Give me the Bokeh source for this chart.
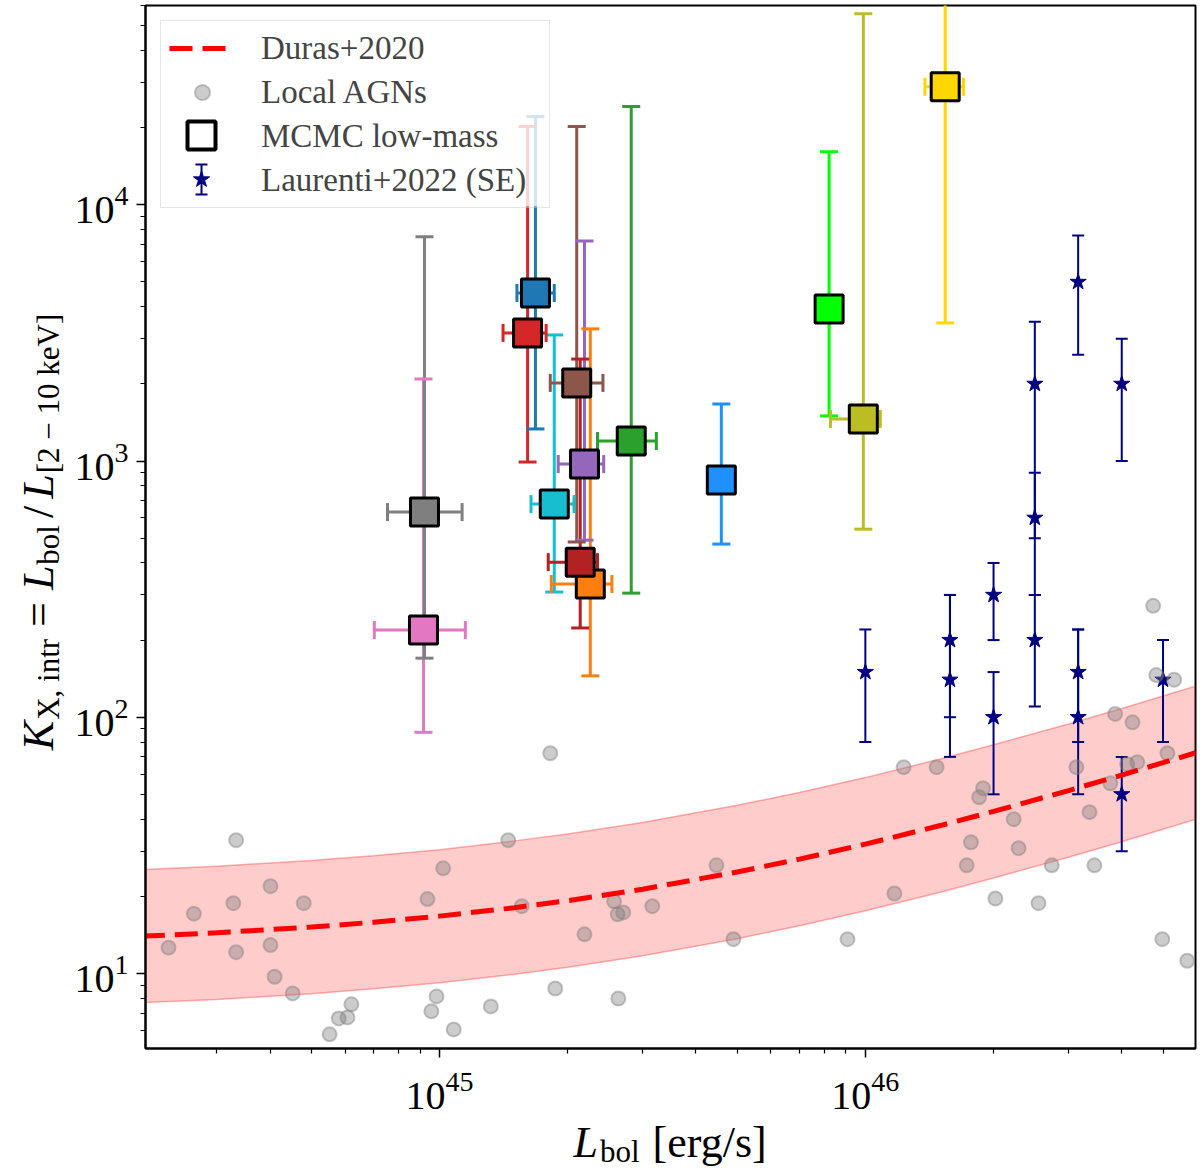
import numpy as np
from bokeh.plotting import figure
from bokeh.layouts import column, row
from bokeh.models import Range1d, Label, Legend, LegendItem, ColumnDataSource, FixedTicker
from bokeh.embed import file_html
from bokeh.resources import INLINE

# ---------------- data ----------------
# Duras+2020 relation (dashed) and its scatter band
duras_L = [2e44, 3e44, 5e44, 7e44, 1e45, 1.5e45, 2e45, 3e45, 5e45, 7e45,
           1e46, 1.5e46, 2e46, 3e46, 4e46, 5e46, 6e46]
duras_K = [13.97, 14.40, 15.16, 15.83, 16.73, 18.05, 19.22, 21.31, 24.87, 27.92,
           31.95, 37.76, 42.86, 51.71, 59.45, 66.45, 72.87]
duras_hi = [25.4, 26.2, 27.6, 28.8, 30.4, 32.9, 35.0, 38.8, 45.3, 50.8,
            58.1, 68.7, 78.0, 94.1, 108.2, 120.9, 132.6]
duras_lo = [7.68, 7.91, 8.33, 8.70, 9.19, 9.92, 10.56, 11.71, 13.66, 15.34,
            17.55, 20.75, 23.55, 28.41, 32.66, 36.51, 40.04]

# Local AGNs
local_L = [2.31e44, 2.65e44, 3.33e44, 3.28e44, 3.33e44, 4.01e44, 4.01e44, 4.10e44, 4.52e44, 4.80e44,
           5.52e44, 5.80e44, 6.08e44, 6.21e44, 9.37e44, 1.02e45, 9.57e44, 9.84e44, 1.08e45, 1.32e45,
           1.45e45, 1.56e45, 1.82e45, 2.19e45, 2.57e45, 2.62e45, 2.70e45, 3.16e45, 1.87e45, 2.63e45,
           4.47e45, 4.90e45, 9.08e45, 1.17e46, 1.23e46, 1.47e46, 1.73e46, 1.77e46, 1.85e46, 1.89e46,
           2.23e46, 2.29e46, 2.02e46, 2.74e46, 2.55e46, 3.13e46, 3.36e46, 3.45e46, 3.76e46, 4.12e46,
           4.35e46, 4.98e46, 5.70e46, 3.86e46, 4.24e46, 5.12e46, 4.74e46, 4.82e46, 5.31e46]
local_K = [12.6, 17.1, 33.1, 18.8, 12.1, 21.9, 12.9, 9.7, 8.35, 18.8,
           5.78, 6.67, 6.73, 7.57, 19.5, 25.7, 7.11, 8.13, 6.04, 7.43,
           33.1, 18.3, 72.3, 14.2, 19.1, 17.0, 17.3, 18.3, 8.73, 7.98,
           26.4, 13.6, 13.6, 20.5, 63.8, 63.8, 26.4, 32.5, 48.7, 52.8,
           40.0, 30.8, 19.6, 26.4, 18.8, 63.8, 42.6, 26.4, 55.2, 65.5,
           66.7, 13.6, 11.2, 103, 95.5, 72.3, 272, 146, 140]

# MCMC low-mass objects
mcmc_colors = ["#1f77b4", "#ff7f0e", "#2ca02c", "#d62728", "#9467bd", "#8c564b", "#e377c2",
               "#7f7f7f", "#bcbd22", "#17becf", "#b22222", "#1e90ff", "#00ff00", "#ffd700"]
mcmc_L = [1.68e45, 2.26e45, 2.82e45, 1.61e45, 2.19e45, 2.10e45, 9.17e44,
          9.22e44, 9.89e45, 1.86e45, 2.14e45, 4.59e45, 8.22e45, 1.54e46]
mcmc_L_lo = [1.52e45, 1.83e45, 2.35e45, 1.41e45, 1.90e45, 1.82e45, 7.03e44,
             7.55e44, 8.28e45, 1.64e45, 1.80e45, 4.59e45, 8.22e45, 1.38e46]
mcmc_L_hi = [1.86e45, 2.54e45, 3.23e45, 1.78e45, 2.43e45, 2.42e45, 1.15e45,
             1.13e45, 1.084e46, 2.07e45, 2.35e45, 4.59e45, 8.22e45, 1.70e46]
mcmc_K = [4530, 331, 1197, 3162, 973, 2018, 219, 632, 1460, 679, 403, 843, 3925, 28900]
mcmc_K_lo = [1334, 145, 305, 991, 491, 483, 87.3, 170, 542, 308, 223, 474, 1500, 3460]
mcmc_K_hi = [22100, 3280, 24200, 20200, 7230, 20200, 2090, 7500, 55700, 3105, 2500, 1670, 16100, 2.0e5]

# Laurenti+2022 (SE)
laur_L = [1.0e46, 1.58e46, 1.58e46, 2.0e46, 2.0e46, 2.5e46, 2.5e46, 2.5e46,
          3.16e46, 3.16e46, 3.16e46, 4.0e46, 4.0e46, 5.0e46]
laur_K = [150, 200, 140, 300, 100, 2000, 600, 200, 5000, 150, 100, 2000, 50, 140]
laur_K_lo = [80, 100, 70, 200, 50, 300, 500, 110, 2600, 80, 50, 1000, 30, 80]
laur_K_hi = [220, 300, 300, 400, 150, 3500, 900, 300, 7600, 220, 220, 3000, 70, 200]

# axes
XMIN, XMAX = 2.04e44, 5.96e46
YMIN, YMAX = 5.09, 6.0e4
x_major = [1e45, 1e46]
x_minor = [m * 10.0 ** e for e in (44, 45, 46) for m in range(2, 10)]
y_major = [1e1, 1e2, 1e3, 1e4]
y_minor = [m * 10.0 ** e for e in (0, 1, 2, 3, 4) for m in range(2, 10)]

# ---------------- layout ----------------
FONT = "Liberation Serif"
WTOT = 1198
WL = 66                 # width of the y-label strip
BL, BR, BT = 79, 3, 5   # left / right / top borders of the main figure
HX = 54                 # height of the x-label strip
HMAIN = 1170 - HX       # height of the main figure
BB = 68                 # bottom border (x tick labels)
FW = WTOT - WL - BL - BR
FH = HMAIN - BT - BB

p = figure(x_axis_type="log", y_axis_type="log",
           x_range=Range1d(XMIN, XMAX), y_range=Range1d(YMIN, YMAX),
           width=WTOT - WL, height=HMAIN,
           min_border_left=BL, min_border_right=BR, min_border_top=BT, min_border_bottom=BB,
           output_backend="svg", toolbar_location=None, background_fill_color="white")
p.xgrid.visible = False
p.ygrid.visible = False
p.outline_line_color = "black"
p.outline_line_width = 2
p.outline_line_alpha = 1.0

p.xaxis.ticker = FixedTicker(ticks=x_major, minor_ticks=x_minor)
p.yaxis.ticker = FixedTicker(ticks=y_major, minor_ticks=y_minor)
for ax in (p.xaxis[0], p.yaxis[0]):
    ax.axis_line_width = 2
    ax.axis_line_color = "black"
    ax.major_tick_in = 0
    ax.major_tick_out = 9
    ax.minor_tick_in = 0
    ax.minor_tick_out = 5
    ax.major_tick_line_width = 1.5
    ax.minor_tick_line_width = 1.2
    ax.major_tick_line_color = "black"
    ax.minor_tick_line_color = "black"
    ax.major_label_text_font = FONT
    ax.major_label_text_font_size = "40px"
    ax.major_label_text_color = "black"
p.xaxis.major_label_standoff = 14
p.yaxis.major_label_standoff = 8

lx0, lx1 = np.log10(XMIN), np.log10(XMAX)
ly0, ly1 = np.log10(YMIN), np.log10(YMAX)


def X(px):
    """screen px from frame left -> data x"""
    return float(10 ** (lx0 + px / FW * (lx1 - lx0)))


def Y(py):
    """screen px from frame top -> data y"""
    return float(10 ** (ly0 + (FH - py) / FH * (ly1 - ly0)))


# ---------------- glyphs ----------------
p.varea(x=duras_L, y1=duras_lo, y2=duras_hi, fill_color="red", fill_alpha=0.2)
p.line(duras_L, duras_hi, line_color="red", line_alpha=0.3, line_width=1.5)
p.line(duras_L, duras_lo, line_color="red", line_alpha=0.3, line_width=1.5)

# Laurenti error bars + stars
p.segment(x0=laur_L, y0=laur_K_lo, x1=laur_L, y1=laur_K_hi, line_color="navy", line_width=2)
p.scatter(x=laur_L + laur_L, y=laur_K_lo + laur_K_hi, marker="dash", size=12,
          line_color="navy", line_width=2)
p.scatter(x=laur_L, y=laur_K, marker="star", size=17, fill_color="navy", line_color="navy")

# Local AGNs
r_local = p.scatter(x=local_L, y=local_K, marker="circle", size=14, fill_color="gray",
                    fill_alpha=0.4, line_color="gray", line_alpha=0.45, line_width=2)

# Duras dashed line
r_duras = p.line(duras_L, duras_K, line_color="red", line_width=5, line_dash="23 10")

# MCMC low-mass
src = ColumnDataSource(dict(x=mcmc_L, xlo=mcmc_L_lo, xhi=mcmc_L_hi,
                            y=mcmc_K, ylo=mcmc_K_lo, yhi=mcmc_K_hi, color=mcmc_colors))
p.segment(x0="x", y0="ylo", x1="x", y1="yhi", line_color="color", line_width=3, source=src)
p.segment(x0="xlo", y0="y", x1="xhi", y1="y", line_color="color", line_width=3, source=src)
p.scatter(x="x", y="ylo", marker="dash", size=18, line_color="color", line_width=3, source=src)
p.scatter(x="x", y="yhi", marker="dash", size=18, line_color="color", line_width=3, source=src)
p.scatter(x="xlo", y="y", marker="dash", angle=np.pi / 2, size=18, line_color="color",
          line_width=3, source=src)
p.scatter(x="xhi", y="y", marker="dash", angle=np.pi / 2, size=18, line_color="color",
          line_width=3, source=src)
p.scatter(x="x", y="y", marker="square", size=28, fill_color="color", line_color="black",
          line_width=3, source=src)

# ---------------- legend ----------------
LM, LP, GW, GH, LSP, LSO, LW = 15, 8, 66, 38, 6, 26, 280
LEG_W = 2 * LP + GW + LSO + LW
LEG_H = 2 * LP + 4 * GH + 3 * LSP
# translucent legend background (drawn as a glyph so the legend symbols can sit above it)
p.quad(left=[X(LM)], right=[X(LM + LEG_W)], top=[Y(LM)], bottom=[Y(LM + LEG_H)],
       fill_color="white", fill_alpha=0.8, line_alpha=0)

LGX = LM + LP + GW / 2
row_y = [LM + LP + GH / 2 + (GH + LSP) * i for i in range(4)]
# big open square for "MCMC low-mass"
p.scatter(x=[X(LGX)], y=[Y(row_y[2])], marker="square", size=28, fill_color="white",
          line_color="black", line_width=4)
# star with error bar for "Laurenti+2022 (SE)"
p.segment(x0=[X(LGX)], y0=[Y(row_y[3] - 15)], x1=[X(LGX)], y1=[Y(row_y[3] + 15)],
          line_color="navy", line_width=2)
p.scatter(x=[X(LGX), X(LGX)], y=[Y(row_y[3] - 15), Y(row_y[3] + 15)], marker="dash", size=12,
          line_color="navy", line_width=2)
p.scatter(x=[X(LGX)], y=[Y(row_y[3])], marker="star", size=17, fill_color="navy",
          line_color="navy")

r_dummy = p.scatter(x=[], y=[], marker="square", fill_alpha=0, line_alpha=0)
r_dummy2 = p.scatter(x=[], y=[], marker="star", fill_alpha=0, line_alpha=0)
legend = Legend(items=[
    LegendItem(label="Duras+2020", renderers=[r_duras]),
    LegendItem(label="Local AGNs", renderers=[r_local]),
    LegendItem(label="MCMC low-mass", renderers=[r_dummy]),
    LegendItem(label="Laurenti+2022 (SE)", renderers=[r_dummy2]),
], location="top_left")
legend.label_text_font = FONT
legend.label_text_font_size = "33px"
legend.glyph_width = GW
legend.glyph_height = GH
legend.label_height = GH
legend.label_width = LW
legend.spacing = LSP
legend.padding = LP
legend.margin = LM
legend.label_standoff = LSO
legend.border_line_color = "#cccccc"
legend.border_line_width = 1.5
legend.background_fill_alpha = 0.0
p.add_layout(legend)

# ---------------- axis labels (multi-part real text in label strips) ----------------
W = {" ": 250, "(": 333, ")": 333, ",": 250, "/": 278, "[": 333, "]": 333, "=": 564, "−": 564,
     "0": 500, "1": 500, "2": 500, "X": 722, "V": 722, "b": 500, "e": 444, "g": 500, "i": 278,
     "k": 500, "l": 278, "n": 500, "o": 500, "r": 333, "s": 389, "t": 278, "K": 667, "L": 556}


def tw(s, size):
    return sum(W.get(c, 500) for c in s) / 1000.0 * size


MAIN, SUB = 44, 31
MID = 0.3   # distance (in em) from the text middle to its alphabetic baseline


def strip(w, h):
    f = figure(frame_width=w, frame_height=h, x_range=Range1d(0, w), y_range=Range1d(0, h),
               min_border=0, x_axis_location=None, y_axis_location=None,
               output_backend="svg", toolbar_location=None, outline_line_color=None,
               background_fill_color="white")
    f.grid.visible = False
    return f


fy = strip(WL, HMAIN)
fx = strip(WTOT, HX)

# pieces: (text, font size, italic, subscript shift, gap after)
xparts = [("L", MAIN, True, 0, 2), ("bol", SUB, False, 5, 13), ("[erg/s]", MAIN, False, 0, 0)]
total = sum(tw(t, s) + g for t, s, _, _, g in xparts)
cx = WL + BL + FW / 2 - total / 2
base_y = 15   # alphabetic baseline, px above the strip bottom
for t, s, it, sh, g in xparts:
    fx.add_layout(Label(x=cx, y=base_y - sh + MID * s, text=t, text_font=FONT,
                        text_font_size=f"{s}px", text_font_style="italic" if it else "normal",
                        text_baseline="middle", text_align="left", text_color="black"))
    cx += tw(t, s) + g

yparts = [("K", MAIN, True, 0, 1), ("X, intr", SUB, False, 6, 12), ("=", MAIN, False, 0, 12),
          ("L", MAIN, True, 0, 1), ("bol", SUB, False, 6, 7), ("/", MAIN, False, 0, 7),
          ("L", MAIN, True, 0, 1), ("[2 − 10 keV]", SUB, False, 6, 0)]
total = sum(tw(t, s) + g for t, s, _, _, g in yparts)
cy = (BB + FH / 2) - total / 2
base_x = 51   # baseline of the rotated text, px from the strip left
for t, s, it, sh, g in yparts:
    fy.add_layout(Label(x=base_x + sh - MID * s, y=cy, text=t, text_font=FONT, angle=np.pi / 2,
                        text_font_size=f"{s}px", text_font_style="italic" if it else "normal",
                        text_baseline="middle", text_align="left", text_color="black"))
    cy += tw(t, s) + g

layout = column(row(fy, p), fx)
open("out.html", "w").write(file_html(layout, INLINE))
